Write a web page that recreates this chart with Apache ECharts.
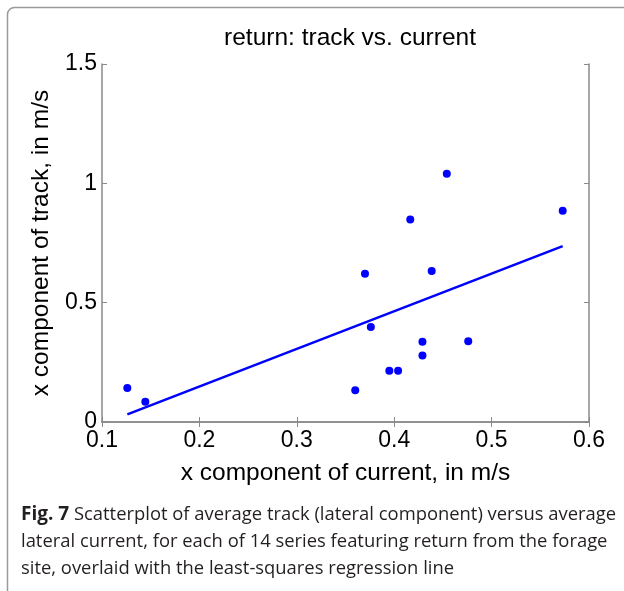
<!DOCTYPE html>
<html>
<head>
<meta charset="utf-8">
<script src="https://cdn.jsdelivr.net/npm/echarts@6/dist/echarts.min.js"></script>
<style>
  html, body { margin: 0; padding: 0; background: #fff; }
  #main { width: 624px; height: 591px; }
</style>
</head>
<body>
<div id="main"></div>
<script>
// data
const currentX = [0.454, 0.573, 0.4165, 0.370, 0.4385, 0.376, 0.429, 0.476, 0.429, 0.395, 0.404, 0.360, 0.126, 0.1445];
const trackX   = [1.040, 0.885, 0.848, 0.621, 0.633, 0.398, 0.336, 0.338, 0.279, 0.215, 0.215, 0.133, 0.142, 0.085];
const fitX = [0.126, 0.573];
const fitY = [0.032, 0.737];

const points = currentX.map(function (x, i) { return [x, trackX[i]]; });
const fitLine = fitX.map(function (x, i) { return [x, fitY[i]]; });

const chart = echarts.init(document.getElementById('main'));
const axisGray = '#8a8a8a';
const font = 'Liberation Sans, Arial, sans-serif';

const option = {
    animation: false,
    backgroundColor: '#fff',
    title: {
        text: 'return: track vs. current',
        left: 345, top: 21,
        textAlign: 'center',
        textStyle: { fontFamily: font, fontSize: 24.5, fontWeight: 'normal', color: '#000' }
    },
    grid: { left: 102, top: 64, right: 35, bottom: 169 },
    xAxis: [{
        type: 'value', min: 0.1, max: 0.6, interval: 0.1,
        name: 'x component of current, in m/s',
        nameLocation: 'middle', nameGap: 39,
        nameTextStyle: { fontFamily: font, fontSize: 24.5, color: '#000' },
        axisLine: { lineStyle: { color: axisGray, width: 1.5 } },
        axisTick: { inside: true, length: 5, lineStyle: { color: axisGray } },
        axisLabel: { fontFamily: font, fontSize: 23, color: '#000', margin: 7 },
        splitLine: { show: false }
    }, {
        type: 'value', min: 0.1, max: 0.6, interval: 0.1, position: 'top',
        axisLine: { show: true, lineStyle: { color: axisGray, width: 1.5 } },
        axisTick: { show: true, inside: true, length: 5, lineStyle: { color: axisGray } },
        axisLabel: { show: false },
        splitLine: { show: false }
    }],
    yAxis: [{
        type: 'value', min: 0, max: 1.5, interval: 0.5,
        name: 'x component of track, in m/s',
        nameLocation: 'middle', nameGap: 36,
        nameTextStyle: { fontFamily: font, fontSize: 24.5, color: '#000' },
        axisLine: { show: true, lineStyle: { color: axisGray, width: 1.5 } },
        axisTick: { show: true, inside: true, length: 5, lineStyle: { color: axisGray } },
        axisLabel: { fontFamily: font, fontSize: 23, color: '#000', margin: 5 },
        splitLine: { show: false }
    }, {
        type: 'value', min: 0, max: 1.5, interval: 0.5, position: 'right',
        axisLine: { show: true, lineStyle: { color: axisGray, width: 1.5 } },
        axisTick: { show: true, inside: true, length: 5, lineStyle: { color: axisGray } },
        axisLabel: { show: false },
        splitLine: { show: false }
    }],
    series: [{
        type: 'scatter',
        data: points,
        symbolSize: 8,
        itemStyle: { color: '#0000ff', opacity: 1 }
    }, {
        type: 'line',
        data: fitLine,
        symbol: 'none',
        lineStyle: { color: '#0000ff', width: 2.5 }
    }],
    graphic: [{
        type: 'rect',
        shape: { x: 7.5, y: 7.5, width: 700, height: 700, r: 7 },
        style: { fill: 'none', stroke: '#9a9a9a', lineWidth: 1.5 },
        silent: true
    }, {
        type: 'text',
        left: 21, top: 501,
        style: {
            text: '{b|Fig. 7} Scatterplot of average track (lateral component) versus average\n' +
                  'lateral current, for each of 14 series featuring return from the forage\n' +
                  'site, overlaid with the least-squares regression line',
            fontFamily: 'Open Sans, sans-serif',
            fontSize: 18.4,
            lineHeight: 27,
            fill: '#231f20',
            rich: {
                b: { fontFamily: 'Open Sans, sans-serif', fontSize: 19, fontWeight: 'bold', fill: '#231f20', lineHeight: 27 }
            }
        }
    }]
};

chart.setOption(option);
</script>
</body>
</html>
